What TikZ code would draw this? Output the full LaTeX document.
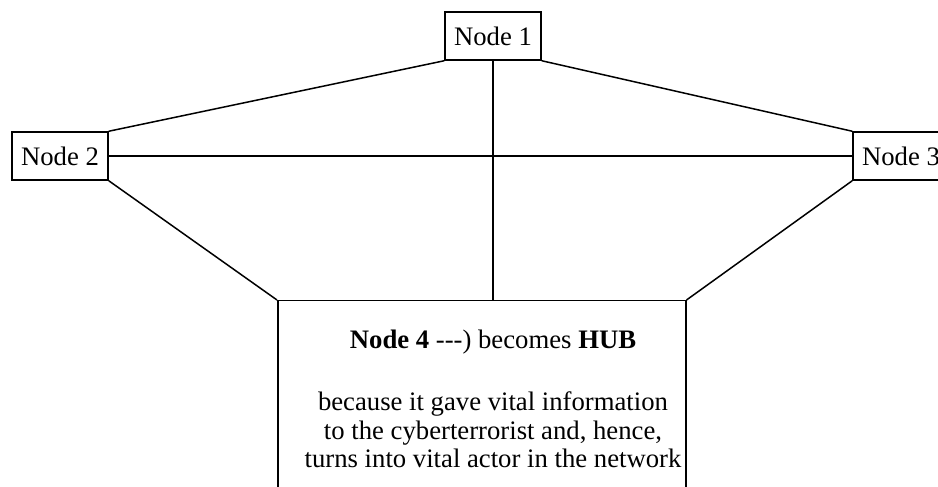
\documentclass[tikz,border=0pt]{standalone}
\usepackage{fontspec}
\setmainfont{Liberation Serif}
\begin{document}
\begin{tikzpicture}[x=1bp,y=-1bp,
  line width=1.5bp,
  every node/.style={font=\fontsize{26.7bp}{28.5bp}\selectfont},
  nodebox/.style={draw, rectangle, inner sep=0pt, minimum width=96bp, minimum height=48bp},
  hubbox/.style={draw, rectangle, inner sep=0pt, minimum width=408bp, minimum height=220bp, anchor=north west},
  txt/.style={inner sep=0pt, align=center}
]
\useasboundingbox (0,0) rectangle (938,487);
\clip (0,0) rectangle (938,487);
\fill[white] (0,0) rectangle (938,487);
\node[nodebox] (n1) at (493,36) {Node 1};
\node[nodebox] (n2) at (60,156) {Node 2};
\node[nodebox] (n3) at (901,156) {Node 3};
\node[hubbox] (n4) at (277,300) {};
\node[txt, anchor=base] (t1) at (493,349) {\textbf{Node 4} -{}-{}-) becomes \textbf{HUB}};
\node[txt, anchor=base] (t2) at (493,467.7) {because it gave vital information\\to the cyberterrorist and, hence,\\turns into vital actor in the network};
\draw (n1.south west) -- (n2.north east);
\draw (n1.south east) -- (n3.north west);
\draw (n2.east) -- (n3.west);
\draw (n1.south) -- (n1.south |- n4.north);
\draw (n2.south east) -- (n4.north west);
\draw (n3.south west) -- (n4.north east);
\end{tikzpicture}
\end{document}
